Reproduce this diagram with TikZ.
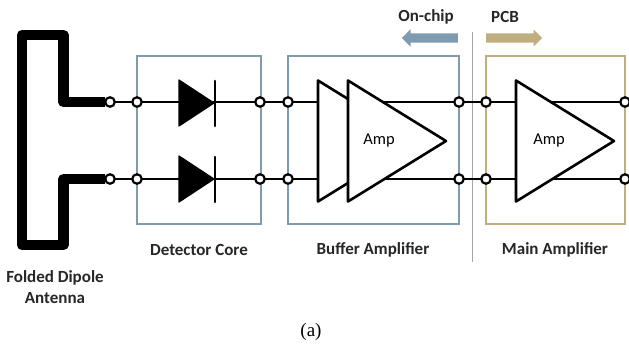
\documentclass[tikz,border=0pt]{standalone}
\usepackage{fontspec}
\setmainfont{Carlito}
\newfontfamily\capfont{Liberation Serif}
\usetikzlibrary{shapes.geometric,shapes.arrows}
\definecolor{chipblue}{HTML}{7F9BB0}
\definecolor{pcbtan}{HTML}{BFAF80}
\tikzset{
	x=1pt, y=-1pt,
	terminal/.style = {circle, draw, fill=white, line width=2.2pt, minimum size=9.5pt, inner sep=0pt, outer sep=0pt},
	wire/.style = {line width=2.6pt},
	stage/.style = {line width=1.2pt},
	dipole/.style = {line width=10.5pt, line join=round},
	amp/.style = {isosceles triangle, isosceles triangle stretches, draw, fill=white, line width=2.6pt, line join=round, minimum width=121pt, minimum height=98pt, inner sep=0pt, outer sep=0pt, anchor=lower side},
	diode/.style = {isosceles triangle, isosceles triangle stretches, draw, fill=black, line width=1.2pt, line join=round, minimum width=46pt, minimum height=35pt, inner sep=0pt, outer sep=0pt, anchor=lower side},
	side/.style = {single arrow, single arrow head extend=4pt, minimum width=17pt, minimum height=56pt, inner xsep=0pt, inner ysep=4.5pt, anchor=tail},
	lbl/.style = {font=\fontsize{17}{21}\selectfont\bfseries, text=black!85, align=center},
	amplbl/.style = {font=\fontsize{16.5}{21}\selectfont, text=black}
}
\begin{document}
\begin{tikzpicture}
		\useasboundingbox (0,0) rectangle (629,351);
		
		% Stage boxes
		\draw[stage, chipblue] (137,56) rectangle (261,224);
		\draw[stage, chipblue] (288,56) rectangle (459,224);
		\draw[stage, pcbtan] (486,56) rectangle (625,224);
		\draw[line width=1pt, black!35] (472,32) -- (472,262);
		
		% Terminals
		\foreach \name/\xpos in {a/110, b/137, c/260, d/288, e/459, f/486, g/625} {
			\node[terminal] (\name 1) at (\xpos,102) {};
			\node[terminal] (\name 2) at (\xpos,179) {};
		}
		
		% Folded dipole
		\draw[dipole] (a1.west) -- (63.5,102) -- (63.5,35) -- (22,35) -- (22,245) -- (63.5,245) -- (63.5,179) -- (a2.west);
		
		% Wires
		\foreach \one/\two in {a/b, b/c, c/d, d/e, e/f, f/g} {
			\draw[wire] (\one 1) -- (\two 1);
			\draw[wire] (\one 2) -- (\two 2);
		}
		
		% Diodes
		\node[diode] (diode1) at (179,103) {};
		\node[diode] (diode2) at (179,179) {};
		\draw[wire, line cap=round] (215,81) -- (215,126);
		\draw[wire, line cap=round] (215,157) -- (215,202);
		
		% Amplifiers
		\node[amp] (back) at (318,141) {};
		\node[amp] (front) at (348,141) {};
		\node[amp] (main) at (516,141) {};
		\node[amplbl] (frontlbl) at (379,141) {Amp};
		\node[amplbl] (mainlbl) at (549,141) {Amp};
		
		% Side arrows
		\node[side, fill=chipblue, shape border rotate=180] (chiparrow) at (458,38) {};
		\node[side, fill=pcbtan] (pcbarrow) at (486,38) {};
		
		% Labels
		\node[lbl] (chiplbl) at (426,17) {On-chip};
		\node[lbl] (pcblbl) at (505,17) {PCB};
		\node[lbl] (corelbl) at (199,250) {Detector Core};
		\node[lbl] (buflbl) at (373,250) {Buffer Amplifier};
		\node[lbl] (mainamplbl) at (555,250) {Main Amplifier};
		\node[lbl] (antlbl) at (55,287) {Folded Dipole\\Antenna};
		\node[font=\capfont\fontsize{19}{22}\selectfont] (caption) at (311,332) {(a)};
		\end{tikzpicture}
\end{document}
